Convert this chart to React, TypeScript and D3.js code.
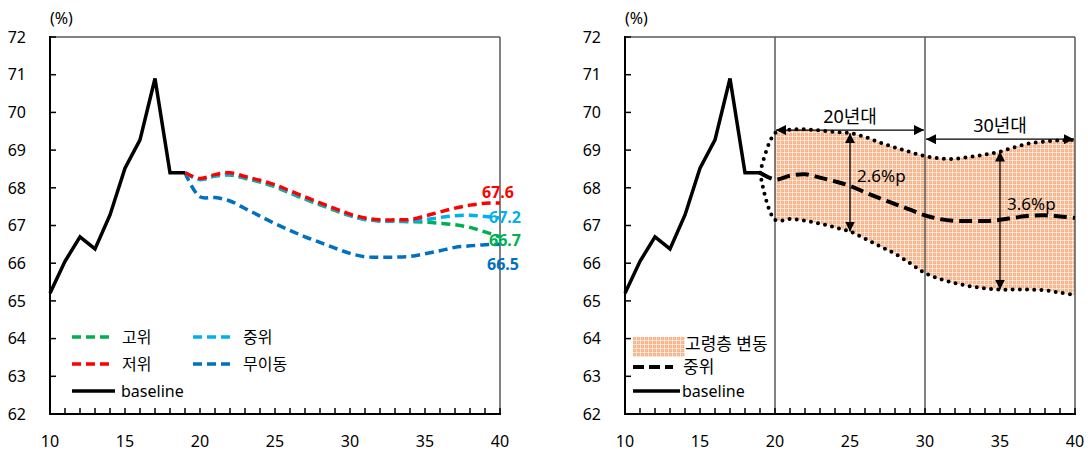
import React from "react";
import * as d3 from "d3";

// ---------- data ----------
const baseYears = [10, 11, 12, 13, 14, 15, 16, 17, 18, 19];
const baseline = [65.2, 66.05, 66.7, 66.38, 67.28, 68.52, 69.27, 70.9, 68.4, 68.4];

const scenYears = [19, 20, 21, 22, 23, 24, 25, 26, 27, 28, 29, 30, 31, 32, 33, 34, 35, 36, 37, 38, 39, 40];
const low = [68.4, 68.25, 68.35, 68.4, 68.3, 68.2, 68.08, 67.92, 67.76, 67.6, 67.45, 67.3, 67.2, 67.15, 67.15, 67.16, 67.25, 67.36, 67.46, 67.54, 67.59, 67.6];
const mid = [68.4, 68.22, 68.32, 68.36, 68.27, 68.17, 68.05, 67.88, 67.72, 67.57, 67.42, 67.27, 67.17, 67.12, 67.12, 67.12, 67.15, 67.21, 67.26, 67.27, 67.24, 67.2];
const high = [68.4, 68.22, 68.31, 68.34, 68.25, 68.15, 68.03, 67.86, 67.7, 67.55, 67.4, 67.26, 67.16, 67.12, 67.11, 67.1, 67.09, 67.06, 67.02, 66.95, 66.83, 66.7];
const noMove = [68.4, 67.76, 67.74, 67.65, 67.45, 67.25, 67.05, 66.87, 66.7, 66.55, 66.4, 66.26, 66.17, 66.16, 66.16, 66.18, 66.25, 66.33, 66.42, 66.46, 66.49, 66.5];

const bandUpper = [68.4, 69.45, 69.54, 69.55, 69.52, 69.48, 69.45, 69.35, 69.2, 69.07, 68.95, 68.84, 68.78, 68.77, 68.82, 68.88, 68.96, 69.08, 69.18, 69.23, 69.26, 69.27];
const bandLower = [68.4, 67.15, 67.17, 67.13, 67.05, 66.95, 66.84, 66.65, 66.45, 66.25, 66.0, 65.74, 65.58, 65.47, 65.39, 65.33, 65.3, 65.3, 65.3, 65.28, 65.22, 65.15];

const yTicks = [62, 63, 64, 65, 66, 67, 68, 69, 70, 71, 72];
const xLabelTicks = [10, 15, 20, 25, 30, 35, 40];
const xMinorTicks = d3.range(10, 41);

const scenarios = [
  { name: "고위", values: high, color: "#00B050", endLabel: "66.7" },
  { name: "중위", values: mid, color: "#00B0F0", endLabel: "67.2" },
  { name: "저위", values: low, color: "#FF0000", endLabel: "67.6" },
  { name: "무이동", values: noMove, color: "#0070C0", endLabel: "66.5" },
];
// draw order (back to front)
const drawOrder = ["무이동", "고위", "중위", "저위"];

const decades = [
  { label: "20년대", from: 20, to: 30, y: 69.53 },
  { label: "30년대", from: 30, to: 40, y: 69.29 },
];
const gaps = [
  { year: 25, label: "2.6%p" },
  { year: 35, label: "3.6%p" },
];

const FONT = "'Noto Sans', 'Noto Sans CJK KR', sans-serif";
const W = 1088;
const H = 452;
const TOP = 37;
const BOTTOM = 414;

const y = d3.scaleLinear().domain([62, 72]).range([BOTTOM, TOP]);

function Frame({ x, showDecadeLines }: { x: d3.ScaleLinear<number, number>; showDecadeLines: boolean }) {
  const [x0, x1] = x.range();
  return (
    <g>
      <line x1={x0} x2={x1} y1={TOP} y2={TOP} stroke="#595959" strokeWidth={1.5} />
      <line x1={x1} x2={x1} y1={TOP} y2={BOTTOM} stroke="#595959" strokeWidth={1.5} />
      {showDecadeLines &&
        [20, 30].map((d) => (
          <line key={d} x1={x(d)} x2={x(d)} y1={TOP} y2={BOTTOM} stroke="#595959" strokeWidth={1.5} />
        ))}
    </g>
  );
}

function Axes({ x }: { x: d3.ScaleLinear<number, number> }) {
  const [x0, x1] = x.range();
  return (
    <g fontFamily={FONT} fontSize={16} fill="#000">
      {yTicks.map((t) => (
        <g key={t}>
          <line x1={x0} x2={x0 + 6} y1={y(t)} y2={y(t)} stroke="#000" strokeWidth={1.5} />
          <text x={x0 - 24} y={y(t)} dy="0.36em" textAnchor="end">
            {t}
          </text>
        </g>
      ))}
      {xMinorTicks.map((t) => (
        <line key={t} x1={x(t)} x2={x(t)} y1={BOTTOM} y2={BOTTOM - 6} stroke="#000" strokeWidth={1.5} />
      ))}
      {xLabelTicks.map((t) => (
        <text key={t} x={x(t)} y={447} textAnchor="middle">
          {t}
        </text>
      ))}
      <line x1={x0} x2={x0} y1={TOP - 1} y2={BOTTOM + 1} stroke="#000" strokeWidth={2} />
      <line x1={x0 - 1} x2={x1 + 1} y1={BOTTOM} y2={BOTTOM} stroke="#000" strokeWidth={2} />
      <text x={x0} y={24}>(%)</text>
    </g>
  );
}

export default function App() {
  const xL = d3.scaleLinear().domain([10, 40]).range([50, 500]);
  const xR = d3.scaleLinear().domain([10, 40]).range([625, 1075]);

  const lineL = d3
    .line<number>()
    .x((_, i) => xL(scenYears[i]))
    .y((d) => y(d))
    .curve(d3.curveCatmullRom.alpha(0.5));
  const lineR = d3
    .line<number>()
    .x((_, i) => xR(scenYears[i]))
    .y((d) => y(d))
    .curve(d3.curveCatmullRom.alpha(0.5));
  const baseLineL = d3
    .line<number>()
    .x((_, i) => xL(baseYears[i]))
    .y((d) => y(d));
  const baseLineR = d3
    .line<number>()
    .x((_, i) => xR(baseYears[i]))
    .y((d) => y(d));
  const bandArea = d3
    .area<number>()
    .x((_, i) => xR(scenYears[i]))
    .y0((_, i) => y(bandLower[i]))
    .y1((d) => y(d))
    .curve(d3.curveCatmullRom.alpha(0.5));

  const byName = (n: string) => scenarios.find((s) => s.name === n)!;

  const legendL = [
    { name: "고위", x: 72, y: 337 },
    { name: "중위", x: 193, y: 337 },
    { name: "저위", x: 72, y: 364 },
    { name: "무이동", x: 193, y: 364 },
  ];

  const endLabelPos: Record<string, { dx: number; y: number }> = {
    "67.6": { dx: -2, y: 192 },
    "67.2": { dx: 5, y: 217 },
    "66.7": { dx: 5, y: 240 },
    "66.5": { dx: 3, y: 264 },
  };

  return (
    <svg
      width={W}
      height={H}
      viewBox={`0 0 ${W} ${H}`}
      style={{ position: "absolute", left: 0, top: 0, background: "#fff" }}
    >
      <defs>
        <pattern id="grid" width={4} height={4} patternUnits="userSpaceOnUse">
          <rect width={4} height={4} fill="#F6B48A" />
          <rect x={0} y={0} width={4} height={1} fill="#fff" opacity={0.6} />
          <rect x={0} y={0} width={1} height={4} fill="#fff" opacity={0.6} />
          <rect x={2} y={2} width={1} height={1} fill="#fff" opacity={0.35} />
        </pattern>
        <clipPath id="clipBand">
          <rect x={xR(20)} y={0} width={xR(40) - xR(20)} height={H} />
        </clipPath>
        <marker id="arrowHead" viewBox="0 0 10 10" refX={10} refY={5} markerWidth={10} markerHeight={10} markerUnits="userSpaceOnUse" orient="auto-start-reverse">
          <path d="M0,0 L10,5 L0,10 Z" fill="#000" />
        </marker>
      </defs>

      {/* ---------- LEFT PANEL ---------- */}
      <Frame x={xL} showDecadeLines={false} />
      {drawOrder.map((n) => {
        const s = byName(n);
        return (
          <path
            key={n}
            d={lineL(s.values) || ""}
            fill="none"
            stroke={s.color}
            strokeWidth={3.5}
            strokeDasharray="9 5"
          />
        );
      })}
      <path d={baseLineL(baseline) || ""} fill="none" stroke="#000" strokeWidth={3.5} strokeLinejoin="miter" />
      <Axes x={xL} />
      <g fontFamily={FONT} fontSize={16} fontWeight="bold">
        {scenarios.map((s) => {
          const p = endLabelPos[s.endLabel];
          return (
            <text key={s.name} x={xL(40) + p.dx} y={p.y} dy="0.36em" textAnchor="middle" fill={s.color}>
              {s.endLabel}
            </text>
          );
        })}
      </g>
      <g fontFamily={FONT} fontSize={16}>
        {legendL.map((l) => {
          const s = byName(l.name);
          return (
            <g key={l.name}>
              <line x1={l.x} x2={l.x + 41} y1={l.y} y2={l.y} stroke={s.color} strokeWidth={3.5} strokeDasharray="9 5" />
              <text x={l.x + 50} y={l.y} dy="0.36em">
                {l.name}
              </text>
            </g>
          );
        })}
        <line x1={72} x2={115} y1={391} y2={391} stroke="#000" strokeWidth={3.5} />
        <text x={121} y={391} dy="0.36em">
          baseline
        </text>
      </g>

      {/* ---------- RIGHT PANEL ---------- */}
      <path d={bandArea(bandUpper) || ""} fill="url(#grid)" clipPath="url(#clipBand)" />
      <Frame x={xR} showDecadeLines={true} />
      <path d={lineR(bandUpper) || ""} fill="none" stroke="#000" strokeWidth={4} strokeLinecap="round" strokeDasharray="0 7.2" />
      <path d={lineR(bandLower) || ""} fill="none" stroke="#000" strokeWidth={4} strokeLinecap="round" strokeDasharray="0 7.2" />
      <path d={lineR(mid) || ""} fill="none" stroke="#000" strokeWidth={4} strokeDasharray="13 6" />
      <path d={baseLineR(baseline) || ""} fill="none" stroke="#000" strokeWidth={3.5} />
      <Axes x={xR} />

      {/* decade arrows */}
      <g fontFamily={FONT} fontSize={17}>
        {decades.map((d) => (
          <g key={d.label}>
            <line
              x1={xR(d.from) + 1}
              x2={xR(d.to) - 1}
              y1={y(d.y)}
              y2={y(d.y)}
              stroke="#000"
              strokeWidth={1.3}
              markerStart="url(#arrowHead)"
              markerEnd="url(#arrowHead)"
            />
            <text x={(xR(d.from) + xR(d.to)) / 2} y={y(d.y) - 14} dy="0.36em" textAnchor="middle" fontSize={18}>
              {d.label}
            </text>
          </g>
        ))}
        {gaps.map((g) => {
          const i = scenYears.indexOf(g.year);
          const gx = xR(g.year);
          const yTop = y(bandUpper[i]);
          const yBot = y(bandLower[i]);
          return (
            <g key={g.label}>
              <line x1={gx} x2={gx} y1={yTop} y2={yBot} stroke="#000" strokeWidth={1.3} markerStart="url(#arrowHead)" markerEnd="url(#arrowHead)" />
              <text x={gx + 7} y={(yTop + yBot) / 2 - (g.year === 25 ? 6 : 17)} dy="0.36em">
                {g.label}
              </text>
            </g>
          );
        })}
      </g>

      {/* right legend */}
      <g fontFamily={FONT} fontSize={17}>
        <rect x={633} y={337} width={52} height={20} fill="url(#grid)" />
        <text x={685} y={344} dy="0.36em">
          고령층 변동
        </text>
        <line x1={633} x2={673} y1={367} y2={367} stroke="#000" strokeWidth={4} strokeDasharray="11 5" />
        <text x={683} y={367} dy="0.36em">
          중위
        </text>
        <line x1={633} x2={680} y1={391} y2={391} stroke="#000" strokeWidth={3.5} />
        <text x={682} y={391} dy="0.36em" fontSize={16}>
          baseline
        </text>
      </g>
    </svg>
  );
}
